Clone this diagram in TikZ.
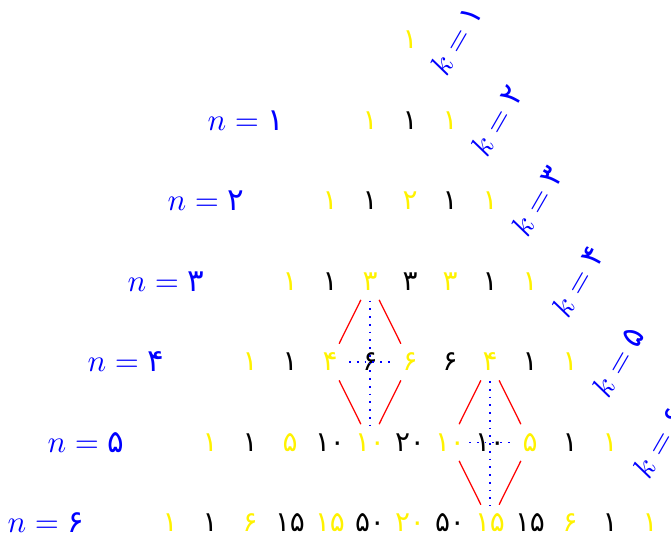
\documentclass[tikz,border=0pt]{standalone}
\usepackage{fontspec}
\newfontfamily\fa[Script=Arabic]{DejaVu Sans}
\begin{document}
\begin{tikzpicture}[x=0.3226pt,y=-0.3226pt,
  num/.style={inner sep=0pt,font=\fa\fontsize{9}{10}\selectfont},
  rowlab/.style={inner sep=0pt,text=blue},
  klab/.style={inner sep=0pt,text=blue,rotate=60},
  redl/.style={red,line width=0.4pt,shorten <=6.6pt,shorten >=6.6pt},
  bluedot/.style={blue,dotted,line width=0.5pt,shorten <=6.2pt,shorten >=5.6pt}]
\useasboundingbox (0,0) rectangle (671,535);
% triangle entries
\foreach \r/\vals in {0/{۱},1/{۱,۱,۱},2/{۱,۱,۲,۱,۱},3/{۱,۱,۳,۳,۳,۱,۱},
  4/{۱,۱,۴,۶,۶,۶,۴,۱,۱},5/{۱,۱,۵,۱۰,۱۰,۲۰,۱۰,۱۰,۵,۱,۱},
  6/{۱,۱,۶,۱۵,۱۵,۵۰,۲۰,۵۰,۱۵,۱۵,۶,۱,۱}}{
  \foreach \v [count=\c from 0] in \vals {
    \pgfmathtruncatemacro\odd{mod(\c,2)}
    \ifnum\odd=0 \def\col{yellow}\else\def\col{black}\fi
    \node[num,text=\col] (r\r c\c) at ({410-40*\r+40*\c},{40+80.5*\r}) {\v};
  }
}
% row labels
\foreach \n/\d in {1/۱,2/۲,3/۳,4/۴,5/۵,6/۶}{
  \node[rowlab] (n\n) at ({286-40*\n},{40+80.5*\n}) {$n=\mbox{\fa\d}$};
}
% k labels
\foreach \k/\d in {1/۱,2/۲,3/۳,4/۴,5/۵,6/۶}{
  \node[klab] (k\k) at ({456+40.5*(\k-1)},{40+80.5*(\k-1)}) {$k=\mbox{\fa\d}$};
}
% first diamond
\draw[redl] (r3c2.center) -- (r4c2.center);
\draw[redl] (r3c2.center) -- (r4c4.center);
\draw[redl] (r4c2.center) -- (r5c4.center);
\draw[redl] (r4c4.center) -- (r5c4.center);
\draw[bluedot] (r3c2.center) -- (r5c4.center);
\draw[bluedot] (r4c2.center) -- (r4c4.center);
% second diamond
\draw[redl] (r4c6.center) -- (r5c6.center);
\draw[redl] (r4c6.center) -- (r5c8.center);
\draw[redl] (r5c6.center) -- (r6c8.center);
\draw[redl] (r5c8.center) -- (r6c8.center);
\draw[bluedot] (r4c6.center) -- (r6c8.center);
\draw[bluedot] (r5c6.center) -- (r5c8.center);
\end{tikzpicture}
\end{document}
